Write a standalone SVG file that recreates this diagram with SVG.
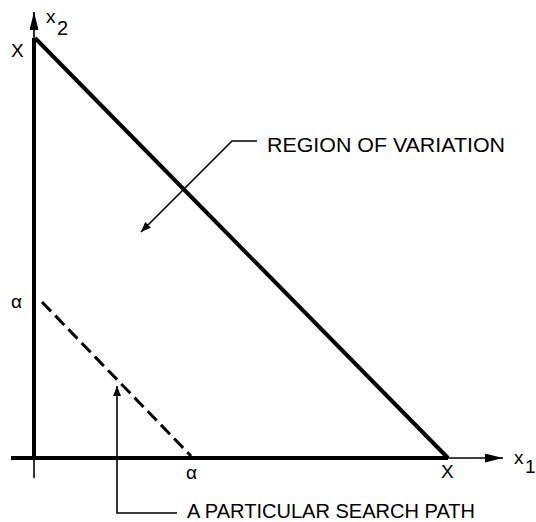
<svg xmlns="http://www.w3.org/2000/svg" width="536" height="522" viewBox="0 0 536 522">
<style>
.t{font-family:"Liberation Sans",Arial,sans-serif;fill:#000}
.thick{stroke:#000;stroke-width:4;fill:none}
.thin{stroke:#000;stroke-width:1.6;fill:none}
</style>
<defs>
<marker id="ah" markerWidth="10" markerHeight="8" refX="10" refY="4" orient="auto" markerUnits="userSpaceOnUse">
<path d="M0,0 L10,4 L0,8 Z" fill="#000"/>
</marker>
<marker id="ahL" markerWidth="18" markerHeight="9" refX="18" refY="4.5" orient="auto" markerUnits="userSpaceOnUse">
<path d="M0,0 L18,4.5 L0,9 Z" fill="#000"/>
</marker>
</defs>
<rect width="536" height="522" fill="#fff"/>
<g id="axes">
<line class="thick" x1="34" y1="38" x2="34" y2="459"/>
<line class="thin" x1="34" y1="38" x2="34" y2="12" marker-end="url(#ahL)" stroke-width="2.5"/>
<line class="thin" x1="34" y1="459" x2="34" y2="478"/>
<line class="thick" x1="11" y1="458" x2="448" y2="458"/>
<line class="thin" x1="448" y1="458" x2="503" y2="458" marker-end="url(#ahL)" stroke-width="2.5"/>
<text class="t" x="46" y="23" font-size="19">x</text>
<text class="t" x="57" y="35" font-size="20">2</text>
<text class="t" x="514" y="464" font-size="19">x</text>
<text class="t" x="525" y="473" font-size="19">1</text>
</g>
<g id="region">
<line class="thick" x1="35" y1="38" x2="448" y2="458"/>
<text class="t" x="11" y="57" font-size="19">X</text>
<text class="t" x="441" y="478" font-size="19">X</text>
</g>
<g id="path">
<line stroke="#000" stroke-width="3" stroke-dasharray="13 6" x1="42" y1="302" x2="191" y2="456"/>
<text class="t" x="11" y="308" font-size="19">α</text>
<text class="t" x="186" y="479" font-size="19">α</text>
</g>
<g id="connectors">
<polyline class="thin" points="257,141 232,141 141,232" marker-end="url(#ah)"/>
<polyline class="thin" points="177,513 117,513 117,386" marker-end="url(#ah)"/>
</g>
<g id="labels">
<text class="t" x="267" y="152" font-size="21" textLength="238" lengthAdjust="spacingAndGlyphs">REGION OF VARIATION</text>
<text class="t" x="187" y="518" font-size="21" textLength="288" lengthAdjust="spacingAndGlyphs">A PARTICULAR SEARCH PATH</text>
</g>
</svg>
